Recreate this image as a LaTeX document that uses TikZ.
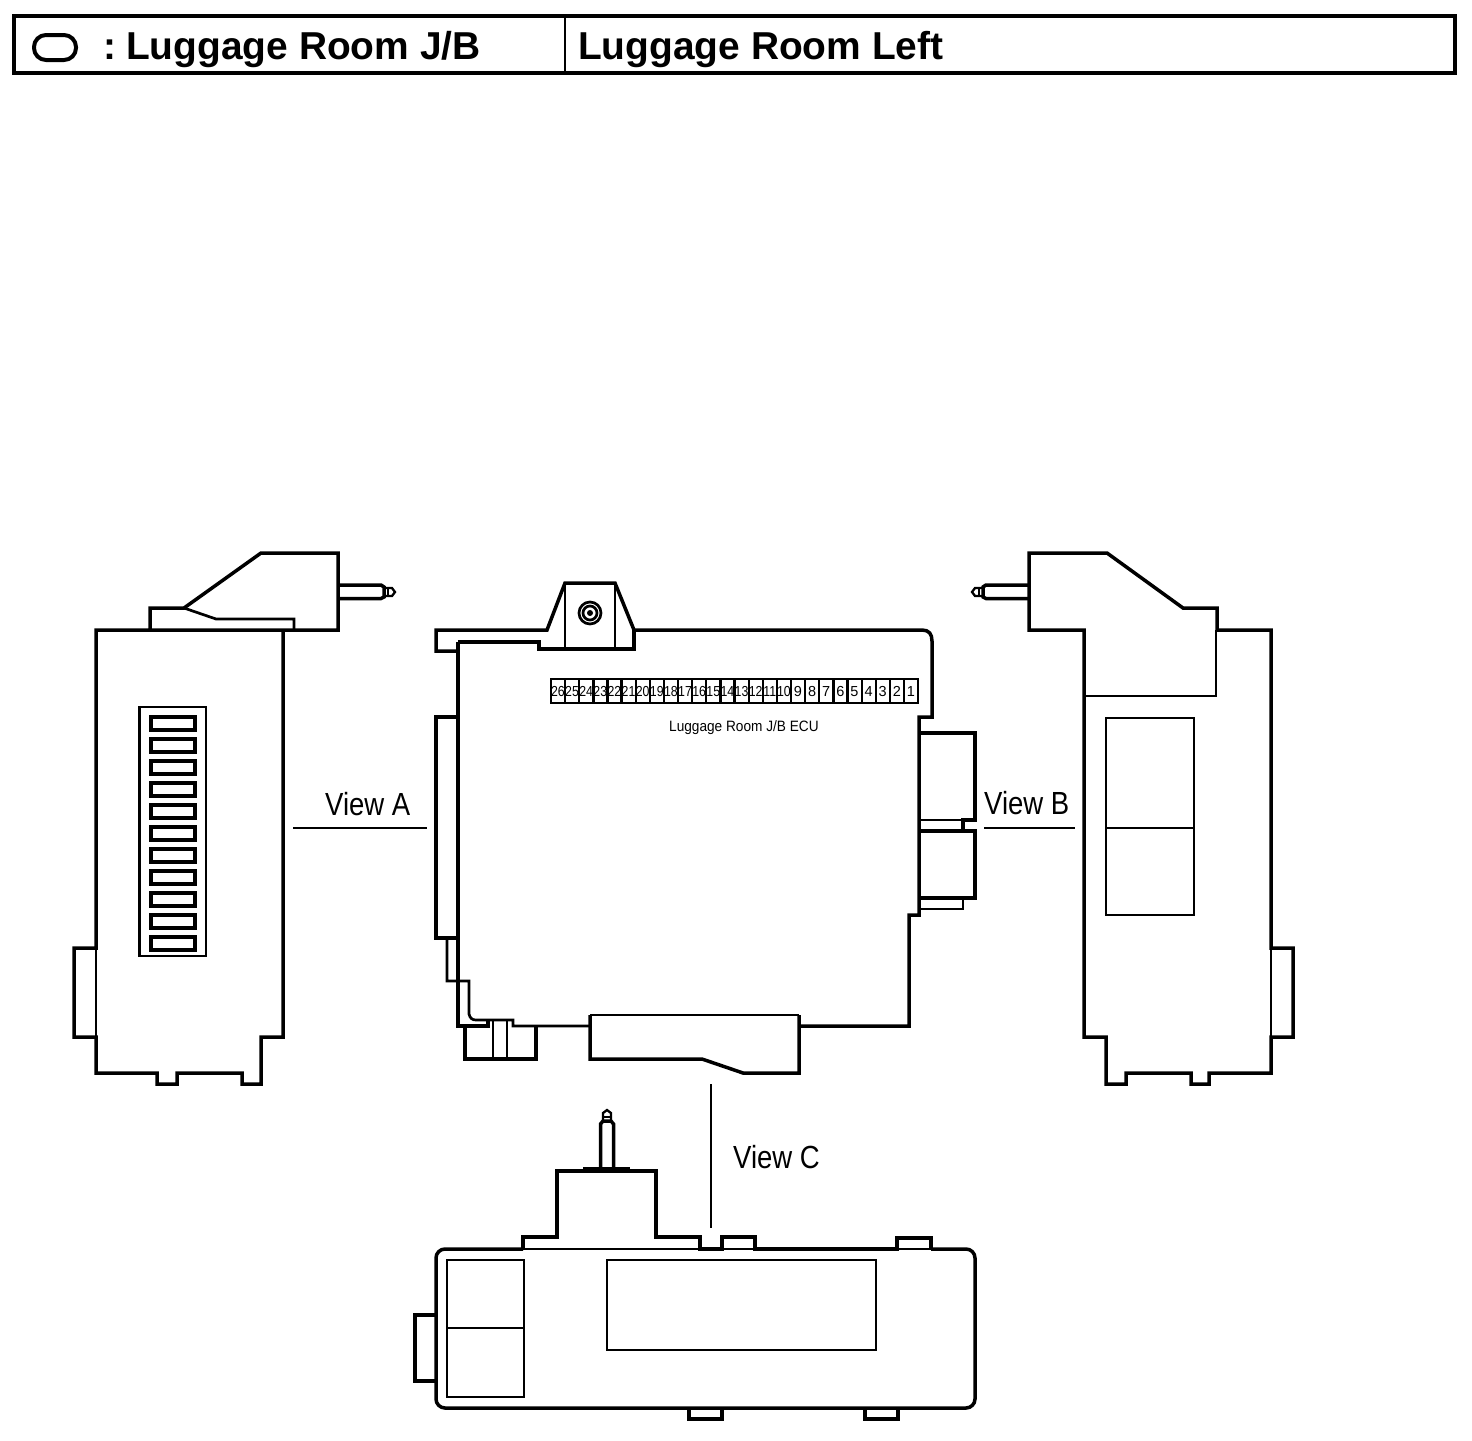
\documentclass[tikz,border=0pt]{standalone}
\usepackage{fontspec}
\usepackage{graphicx}
\setmainfont{Liberation Sans}
\tikzset{
  heavy/.style={draw=black,line width=3.5pt,line join=miter,line cap=butt},
  mid/.style={draw=black,line width=3.2pt,line join=miter,line cap=butt},
  frame/.style={draw=black,line width=2.7pt},
  thin/.style={draw=black,line width=2.3pt},
  leader/.style={draw=black,line width=1.6pt},
  hdr/.style={anchor=base west,inner sep=0pt,font=\bfseries\fontsize{38.9}{40}\selectfont},
  view/.style={anchor=base west,inner sep=0pt,font=\fontsize{32}{34}\selectfont},
  num/.style={anchor=center,inner sep=0pt,font=\fontsize{14.5}{15}\selectfont},
  ecu/.style={anchor=base west,inner sep=0pt,font=\fontsize{15}{16}\selectfont}
}
\begin{document}
\begin{tikzpicture}[x=1pt,y=-1pt]
\useasboundingbox[fill=white] (0,0) rectangle (1472,1440);
% header
\draw[draw=black,line width=4pt] (14,16) rectangle (1455,73);
\draw[thin] (565,16) -- (565,73);
\draw[draw=black,line width=4pt,rounded corners=12pt] (34,35) rectangle (76,60);
\node[hdr] (t0) at (103,59) {:};
\node[hdr] (t1) at (126,59) {Luggage Room J/B};
\node[hdr] (t2) at (578,59) {Luggage Room Left};
% left view
\draw[heavy] (150,630) -- (150,608) -- (184,608) -- (261,553) -- (338,553) -- (338,630) -- (96,630) -- (96,948) -- (74,948) -- (74,1037) -- (96,1037) -- (96,1073) -- (157,1073) -- (157,1084) -- (177,1084) -- (177,1073) -- (242,1073) -- (242,1084) -- (261,1084) -- (261,1037) -- (283,1037) -- (283,630);
\draw[thin] (96,948) -- (96,1037);
\draw[frame] (184,608) -- (216,619) -- (294,619) -- (294,630);
\draw[heavy] (338,585) -- (381,585) -- (384,587) -- (384,597) -- (381,598.5) -- (338,598.5);
\draw[thin] (384,588) -- (392,588) -- (395,592) -- (392,596) -- (384,596);
\draw[thin] (388,589) -- (388,595);
\draw[frame] (139.5,707) rectangle (206,956);
\foreach \i in {0,...,10} {
  \draw[heavy] (151,717+22*\i) rectangle (195,730+22*\i);
}
\draw[leader] (293,828) -- (427,828);
\node[view] (va) at (325,815) {\scalebox{.86}[1]{View A}};
% centre view
\draw[heavy] (458,651) -- (436,651) -- (436,630) -- (547,630) -- (565,583) -- (615,583) -- (634,630) -- (922,630) .. controls (929,630) and (932,634) .. (932,641) -- (932,717) -- (919,717) -- (919,915) -- (909,915) -- (909,1026) -- (799,1026);
\draw[mid] (458,642) -- (539,642) -- (539,649) -- (634,649) -- (634,630);
\draw[frame] (565,583) -- (565,649);
\draw[frame] (615,583) -- (615,649);
\draw[frame] (590,613) circle (11);
\draw[frame] (590,613) circle (7);
\fill[black] (590,613) circle (3);
\draw[mid] (458,642) -- (458,1026) -- (488,1026) -- (488,1020);
\draw[mid] (458,717) -- (436,717) -- (436,938) -- (458,938);
\draw[frame] (447,938) -- (447,981) -- (469,981) -- (469,1014) .. controls (470,1018) and (472,1020) .. (476,1020) -- (513,1020) -- (513,1026) -- (590,1026);
\draw[mid] (465,1026) -- (465,1059) -- (536,1059) -- (536,1026);
\draw[frame] (493,1020) -- (493,1058);
\draw[frame] (507,1020) -- (507,1058);
\draw[frame] (590,1015) -- (799,1015);
\draw[heavy] (590,1015) -- (590,1059) -- (702,1059) -- (743,1073) -- (799,1073) -- (799,1015);
\draw[frame] (551,679) rectangle (918,703);
\foreach \n in {1,...,25} {
  \pgfmathsetmacro{\xd}{551+14.12*\n}
  \draw[thin] (\xd,679) -- (\xd,703);
}
\foreach \n in {1,...,9} {
  \pgfmathsetmacro{\xc}{918-14.12*(\n-.5)}
  \node[num] (c\n) at (\xc,691.5) {\n};
}
\foreach \n in {10,...,26} {
  \pgfmathsetmacro{\xc}{918-14.12*(\n-.5)}
  \node[num] (c\n) at (\xc,691.5) {\scalebox{.85}[1]{\n}};
}
\node[ecu] (lab) at (669,731) {\scalebox{.91}[1]{Luggage Room J/B ECU}};
% centre right connectors
\draw[mid] (919,733) -- (975,733) -- (975,820) -- (963,820) -- (963,831);
\draw[thin] (919,820) -- (963,820);
\draw[mid] (919,831) -- (975,831) -- (975,898) -- (919,898);
\draw[frame] (963,898) -- (963,909) -- (919,909);
\draw[leader] (984,828) -- (1075,828);
\node[view] (vb) at (984,814) {\scalebox{.86}[1]{View B}};
% right view
\draw[heavy] (1217,630) -- (1217,608) -- (1183,608) -- (1107,553) -- (1029,553) -- (1029,630) -- (1084,630) -- (1084,1037) -- (1106,1037) -- (1106,1084) -- (1126,1084) -- (1126,1073) -- (1191,1073) -- (1191,1084) -- (1209,1084) -- (1209,1073) -- (1271,1073) -- (1271,1037) -- (1293,1037) -- (1293,948) -- (1271,948) -- (1271,630) -- (1216,630);
\draw[thin] (1271,948) -- (1271,1037);
\draw[thin] (1216,630) -- (1216,696) -- (1084,696);
\draw[heavy] (1029,585) -- (986,585) -- (983,587) -- (983,597) -- (986,598.5) -- (1029,598.5);
\draw[thin] (983,588) -- (975,588) -- (972,592) -- (975,596) -- (983,596);
\draw[thin] (979,589) -- (979,595);
\draw[thin] (1106,718) rectangle (1194,915);
\draw[thin] (1106,828) -- (1194,828);
% bottom view
\draw[heavy,rounded corners=9pt] (523,1249) -- (436,1249) -- (436,1408) -- (975,1408) -- (975,1249) -- (931,1249);
\draw[heavy] (523,1250) -- (523,1237) -- (557,1237) -- (557,1171) -- (656,1171) -- (656,1237) -- (700,1237) -- (700,1249) -- (722,1249) -- (722,1237) -- (755,1237) -- (755,1249) -- (897,1249) -- (897,1238) -- (931,1238) -- (931,1249);
\draw[thin] (523,1249) -- (700,1249);
\draw[thin] (722,1249) -- (755,1249);
\draw[thin] (897,1249) -- (931,1249);
\draw[frame] (584,1171) -- (584,1168) -- (629,1168) -- (629,1171);
\draw[heavy] (600.5,1168) -- (600.5,1124) -- (603,1121) -- (611,1121) -- (613.5,1124) -- (613.5,1168);
\draw[thin] (603,1121) -- (603,1113) -- (607,1110) -- (611,1113) -- (611,1121);
\draw[thin] (604,1117) -- (610,1117);
\draw[heavy] (436,1315) -- (415,1315) -- (415,1381) -- (436,1381);
\draw[heavy] (689,1408) -- (689,1419) -- (722,1419) -- (722,1408);
\draw[heavy] (865,1408) -- (865,1419) -- (898,1419) -- (898,1408);
\draw[thin] (447,1260) rectangle (524,1397);
\draw[thin] (447,1328) -- (524,1328);
\draw[thin] (607,1260) rectangle (876,1350);
\draw[leader] (711,1084) -- (711,1228);
\node[view] (vc) at (733,1168) {\scalebox{.86}[1]{View C}};
\end{tikzpicture}
\end{document}
